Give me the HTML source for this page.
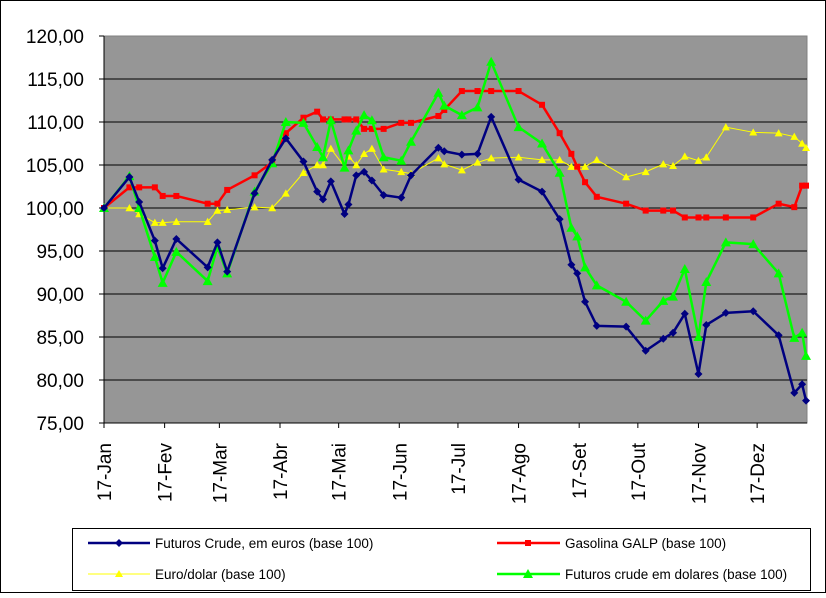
<!DOCTYPE html>
<html><head><meta charset="utf-8"><style>
html,body{margin:0;padding:0;background:#fff;}
svg text{font-family:"Liberation Sans",Arial,sans-serif;}
</style></head><body>
<svg id="chart" width="826" height="593" viewBox="0 0 826 593" xmlns="http://www.w3.org/2000/svg">
<rect x="0.5" y="0.5" width="825" height="592" fill="#fff" stroke="#000"/>
<rect x="104" y="36" width="703" height="387" fill="#969696" stroke="#808080"/>
<g id="grid"></g>
<g id="axes"></g>
<g id="series"></g>
<g>
<rect x="72.5" y="528.5" width="738" height="62" fill="#fff" stroke="#000"/>
<g>
<line x1="88" y1="543" x2="150" y2="543" stroke="#000080" stroke-width="2.5"/>
<path d="M119 539 L123 543 L119 547 L115 543Z" fill="#000080"/>
<text x="155" y="548" font-size="13.5">Futuros Crude, em euros (base 100)</text></g>
<g>
<line x1="497" y1="543" x2="560" y2="543" stroke="#ff0000" stroke-width="2.5"/>
<rect x="525" y="540" width="6" height="6" fill="#ff0000"/>
<text x="565" y="548" font-size="13.5">Gasolina GALP (base 100)</text></g>
<g>
<line x1="88" y1="574" x2="150" y2="574" stroke="#ffff00" stroke-width="1"/>
<path d="M119 570 L123 577 L115 577Z" fill="#ffff00"/>
<text x="155" y="579" font-size="13.5">Euro/dolar (base 100)</text></g>
<g>
<line x1="497" y1="574" x2="560" y2="574" stroke="#00ff00" stroke-width="2.5"/>
<path d="M528 569 L533 578 L523 578Z" fill="#00ff00"/>
<text x="565" y="579" font-size="13.5">Futuros crude em dolares (base 100)</text></g>
</g>
</svg>
<script>
const days = [0,13,18,26,30,37,53,58,63,77,86,93,102,109,112,116,123,125,129,133,137,143,152,157,171,174,183,191,198,212,224,233,239,242,246,252,267,277,286,291,297,304,308,318,332,345,353,357,359];
const crudeEuro = [100,103.6,100.7,96.2,93.0,96.4,93.1,96.0,92.6,101.7,105.6,108.1,105.4,101.9,101.0,103.1,99.3,100.4,103.8,104.2,103.2,101.5,101.2,103.8,107.0,106.6,106.2,106.3,110.6,103.3,101.9,98.7,93.4,92.4,89.1,86.3,86.2,83.4,84.8,85.5,87.7,80.7,86.4,87.8,88.0,85.2,78.5,79.5,77.6];
const gasolina = [100,102.4,102.4,102.4,101.4,101.4,100.5,100.5,102.1,103.8,105.3,108.7,110.5,111.2,110.3,110.3,110.3,110.3,110.3,109.2,109.2,109.2,109.9,109.9,110.7,111.4,113.6,113.6,113.6,113.6,112.0,108.7,106.3,104.8,103.0,101.3,100.5,99.7,99.7,99.7,98.9,98.9,98.9,98.9,98.9,100.5,100.1,102.6,102.6];
const euroDolar = [100,100,99.3,98.3,98.3,98.4,98.4,99.7,99.8,100.1,100,101.7,104.1,105,105,106.9,104.8,106.0,105,106.3,106.9,104.5,104.2,104.0,105.8,105.1,104.4,105.3,105.8,105.9,105.6,105.6,104.8,104.8,104.8,105.6,103.6,104.2,105.1,104.9,106.0,105.5,105.9,109.4,108.8,108.7,108.3,107.5,107.0];
const crudeDolar = [100,103.7,100,94.3,91.3,94.9,91.5,95.5,92.4,101.9,105.2,110.0,109.9,107.1,105.9,110.2,104.7,106.7,109.0,110.8,110.2,105.9,105.5,107.7,113.4,111.9,110.8,111.7,117.0,109.4,107.5,104.1,97.7,96.7,93.1,91.0,89.1,86.9,89.2,89.7,92.9,85.0,91.4,96.0,95.8,92.4,84.9,85.5,82.8];
const yTicks = [75,80,85,90,95,100,105,110,115,120];
const monthLabels = ["17-Jan","17-Fev","17-Mar","17-Abr","17-Mai","17-Jun","17-Jul","17-Ago","17-Set","17-Out","17-Nov","17-Dez"];
const monthDays = [0,31,59,90,120,151,181,212,243,273,304,334];

const NS="http://www.w3.org/2000/svg";
const X0=104,X1=807,Y0=423,Y1=36,DMAX=359.5;
const xs=d=>X0+(d/DMAX)*(X1-X0);
const ys=v=>Y0-(v-75)/(120-75)*(Y0-Y1);
function mk(tag,attrs,parent){const e=document.createElementNS(NS,tag);for(const k in attrs)e.setAttribute(k,attrs[k]);parent.appendChild(e);return e;}
const grid=document.getElementById('grid'),axes=document.getElementById('axes'),ser=document.getElementById('series');
yTicks.forEach(v=>{
  if(v>75&&v<120){const l=mk('line',{x1:X0,x2:X1,y1:ys(v),y2:ys(v),stroke:'#000','stroke-width':1},grid);
  
  }
  mk('line',{x1:X0-5,x2:X0,y1:ys(v),y2:ys(v),stroke:'#000'},axes);
  const t=mk('text',{x:84,y:ys(v)+7,'text-anchor':'end','font-size':19},axes);
  t.textContent=v.toFixed(2).replace('.',',');
  
  
});
mk('line',{x1:X0,x2:X0,y1:Y1,y2:Y0,stroke:'#000'},axes);
mk('line',{x1:X0,x2:X1,y1:Y0,y2:Y0,stroke:'#000'},axes);
monthDays.forEach((d,i)=>{
  const x=xs(d);
  mk('line',{x1:x,x2:x,y1:Y0,y2:Y0+5,stroke:'#000'},axes);
  const t=mk('text',{x:0,y:0,'text-anchor':'end','font-size':19,transform:`translate(${x+7},${Y0+20}) rotate(-90)`},axes);
  t.textContent=monthLabels[i];
  
  
});
function series(vals,color,w,marker,name){
  const g=mk('g',{},ser);
  
  
  mk('polyline',{points:vals.map((v,i)=>xs(days[i])+','+ys(v)).join(' '),fill:'none',stroke:color,'stroke-width':w,'stroke-linejoin':'round'},g);
  vals.forEach((v,i)=>{const x=xs(days[i]),y=ys(v);let m;
    if(marker==='d')m=mk('path',{d:`M${x} ${y-4}L${x+4} ${y}L${x} ${y+4}L${x-4} ${y}Z`,fill:color},g);
    else if(marker==='s')m=mk('rect',{x:x-3,y:y-3,width:6,height:6,fill:color},g);
    else {const s=marker==='T'?5:4;m=mk('path',{d:`M${x} ${y-s}L${x+s} ${y+s*0.8}L${x-s} ${y+s*0.8}Z`,fill:color},g);}
    
    
  });
}
series(euroDolar,'#ffff00',1,'t','series-euro-dolar');
series(gasolina,'#ff0000',2.5,'s','series-gasolina-galp');
series(crudeDolar,'#00ff00',2.5,'T','series-futuros-dolares');
series(crudeEuro,'#000080',2.5,'d','series-futuros-euros');
</script>
</body></html>
